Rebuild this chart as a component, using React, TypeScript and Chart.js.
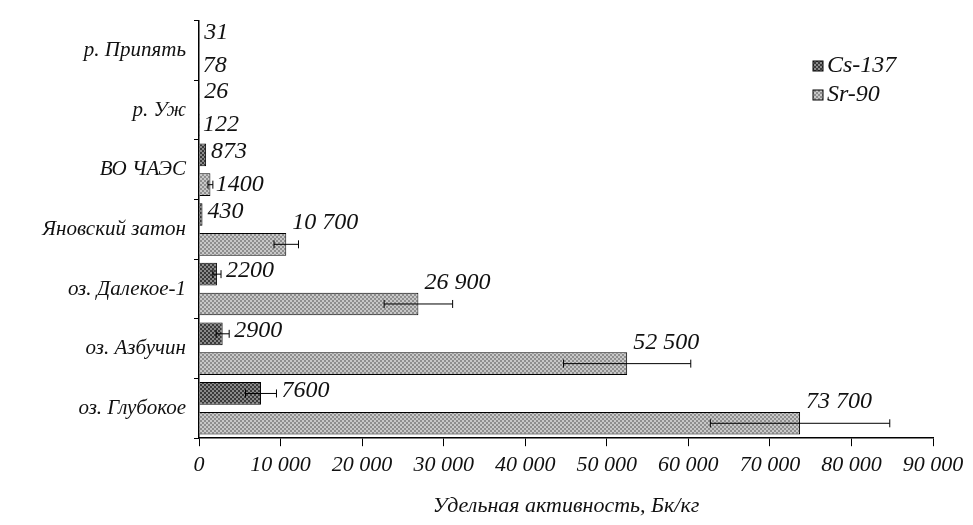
import React, { useRef, useEffect } from 'react';
import { Chart, registerables } from 'chart.js';

Chart.register(...registerables);

const categories = ['р. Припять', 'р. Уж', 'ВО ЧАЭС', 'Яновский затон', 'оз. Далекое-1', 'оз. Азбучин', 'оз. Глубокое'];
const csValues = [31, 26, 873, 430, 2200, 2900, 7600];
const srValues = [78, 122, 1400, 10700, 26900, 52500, 73700];
const csErrors = [0, 0, 0, 0, 500, 800, 1900];
const srErrors = [0, 0, 300, 1500, 4200, 7800, 11000];
const csLabels = ['31', '26', '873', '430', '2200', '2900', '7600'];
const srLabels = ['78', '122', '1400', '10 700', '26 900', '52 500', '73 700'];

const FONT = '"Liberation Serif", "DejaVu Serif", serif';

function makePattern(a: string, b: string) {
  const c = document.createElement('canvas');
  c.width = 4;
  c.height = 4;
  const ctx = c.getContext('2d')!;
  ctx.fillStyle = a;
  ctx.fillRect(0, 0, 4, 4);
  ctx.fillStyle = b;
  ctx.fillRect(0, 0, 2, 2);
  ctx.fillRect(2, 2, 2, 2);
  return ctx.createPattern(c, 'repeat')!;
}

const overlay = {
  id: 'overlay',
  afterDatasetsDraw(chart: any) {
    const ctx = chart.ctx;
    const x = chart.scales.x;
    ctx.save();
    ctx.strokeStyle = '#000';
    ctx.lineWidth = 1;
    ctx.fillStyle = '#111';
    ctx.font = `italic 24px ${FONT}`;
    ctx.textBaseline = 'middle';
    [0, 1].forEach((di) => {
      const meta = chart.getDatasetMeta(di);
      const vals = di === 0 ? csValues : srValues;
      const errs = di === 0 ? csErrors : srErrors;
      const labels = di === 0 ? csLabels : srLabels;
      meta.data.forEach((bar: any, i: number) => {
        const y = bar.y;
        const e = errs[i];
        let end = bar.x;
        if (e > 0) {
          const x0 = x.getPixelForValue(vals[i] - e);
          const x1 = x.getPixelForValue(vals[i] + e);
          ctx.beginPath();
          ctx.moveTo(x0, y);
          ctx.lineTo(x1, y);
          ctx.moveTo(x0, y - 4);
          ctx.lineTo(x0, y + 4);
          ctx.moveTo(x1, y - 4);
          ctx.lineTo(x1, y + 4);
          ctx.stroke();
          end = Math.max(end, x1);
        }
        if (di === 0) {
          ctx.fillText(labels[i], end + 5, y - 3);
        } else if (i < 3) {
          ctx.fillText(labels[i], end + 3, y);
        } else {
          ctx.fillText(labels[i], bar.x + 6, y - bar.height / 2 - 10);
        }
      });
    });
    // legend
    const lx = chart.chartArea.right - 120;
    const items: [string, any][] = [['Cs-137', chart.data.datasets[0].backgroundColor], ['Sr-90', chart.data.datasets[1].backgroundColor]];
    items.forEach(([t, p], k) => {
      const ly = 66 + k * 29;
      ctx.fillStyle = p;
      ctx.fillRect(lx, ly - 5, 10, 10);
      ctx.strokeRect(lx, ly - 5, 10, 10);
      ctx.fillStyle = '#111';
      ctx.font = `italic 24px ${FONT}`;
      ctx.fillText(t, lx + 14, ly);
    });
    ctx.restore();
  },
};

export default function App() {
  const ref = useRef<HTMLCanvasElement>(null);
  useEffect(() => {
    const chart = new Chart(ref.current!, {
      type: 'bar',
      data: {
        labels: categories,
        datasets: [
          { label: 'Cs-137', data: csValues, backgroundColor: makePattern('#8a8a8a', '#3a3a3a'), borderColor: '#000', borderWidth: 1 },
          { label: 'Sr-90', data: srValues, backgroundColor: makePattern('#c8c8c8', '#8e8e8e'), borderColor: '#000', borderWidth: 1 },
        ],
      },
      options: {
        indexAxis: 'y',
        animation: false,
        responsive: false,
        layout: { padding: { top: 10, right: 40, left: 4, bottom: 2 } },
        datasets: { bar: { barPercentage: 0.76, categoryPercentage: 1 } },
        plugins: { legend: { display: false }, tooltip: { enabled: false } },
        scales: {
          x: {
            min: 0,
            max: 90000,
            ticks: {
              stepSize: 10000,
              color: '#111',
              font: { family: FONT, size: 22, style: 'italic' },
              padding: 6,
              maxRotation: 0,
              callback: (v: any) => (v === 0 ? '0' : String(v / 1000) + ' 000'),
            },
            grid: { drawOnChartArea: false, color: '#000', tickLength: 8 },
            border: { color: '#000', width: 1.5 },
            title: { display: true, text: 'Удельная активность, Бк/кг', color: '#111', font: { family: FONT, size: 22, style: 'italic' }, padding: { top: 8 } },
          },
          y: {
            afterFit: (s: any) => { s.width = 195; },
            ticks: { color: '#111', font: { family: FONT, size: 21, style: 'italic' }, padding: 8 },
            grid: { drawOnChartArea: false, color: '#000', tickLength: 5, offset: true },
            border: { color: '#000', width: 1.5 },
          },
        },
      },
      plugins: [overlay],
    });
    return () => chart.destroy();
  }, []);
  return (
    <div style={{ position: 'fixed', left: 0, top: 0, width: 973, height: 525, background: '#fff' }}>
      <canvas ref={ref} width={973} height={525} />
    </div>
  );
}
